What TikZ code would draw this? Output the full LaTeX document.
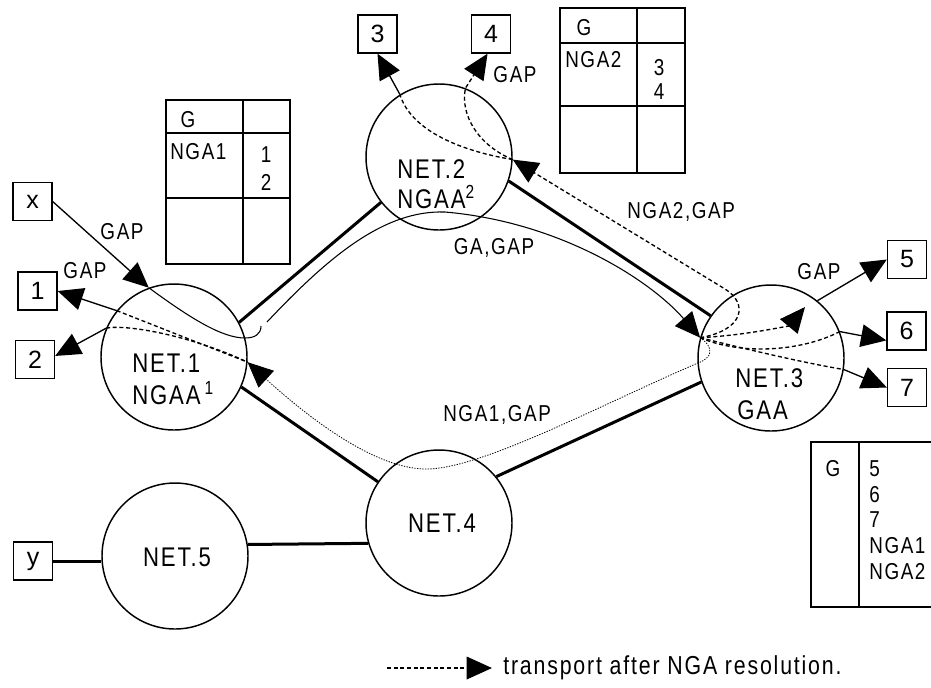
\documentclass[tikz,border=0pt]{standalone}
\usepackage{fontspec}
\setmainfont{Liberation Sans}
\newfontfamily\spfont{Liberation Sans}[FakeStretch=0.82,LetterSpace=7]
\usetikzlibrary{arrows.meta}
\begin{document}
\begin{tikzpicture}[x=0.75pt,y=-0.75pt,
  net/.style={circle, draw, line width=1.1pt, minimum size=109.5pt, inner sep=0pt},
  lbl/.style={inner sep=0pt, font=\spfont\fontsize{20.25}{22}\selectfont},
  small/.style={inner sep=0pt, font=\spfont\fontsize{17.25}{19}\selectfont},
  tbl/.style={inner sep=0pt, font=\spfont\fontsize{17.25}{19}\selectfont},
  leg/.style={inner sep=0pt, font=\spfont\fontsize{19.5}{21}\selectfont},
  bx/.style={draw, line width=1pt, minimum width=29.25pt, minimum height=28.5pt, inner sep=0pt, font=\fontsize{18.75}{20}\selectfont},
  link/.style={line width=2.25pt},
  tip/.style={-{Triangle[length=19pt,width=17pt]}},
  arr/.style={line width=1pt, tip},
  dsh/.style={line width=1pt, dash pattern=on 3pt off 2pt},
  dot/.style={line width=0.6pt, dash pattern=on 1pt off 1pt},
  thin/.style={line width=0.8pt}]
\useasboundingbox (0,0) rectangle (931,687);
\clip (0,0) rectangle (931,687);
\fill[white] (0,0) rectangle (931,687);

% networks
\node[net] (n1) at (174,357) {};
\node[net] (n2) at (439,157) {};
\node[net] (n3) at (771,358) {};
\node[net] (n4) at (439,523) {};
\node[net] (n5) at (175,556) {};

\node[lbl, anchor=west] (t1a) at (132,363) {NET.1};
\node[lbl, anchor=west] (t1b) at (132,393) {NGAA\hspace{3pt}\textsuperscript{1}};
\node[lbl, anchor=west] (t2a) at (397,169) {NET.2};
\node[lbl, anchor=west] (t2b) at (397,197) {NGAA\textsuperscript{2}};
\node[lbl, anchor=west] (t3a) at (735,378) {NET.3};
\node[lbl, anchor=west] (t3b) at (737,410) {GAA};
\node[lbl] (t4) at (442,523) {NET.4};
\node[lbl] (t5) at (177,557) {NET.5};

% boxes
\node[bx] (bxx) at (32.5,201.5) {x};
\node[bx] (b1) at (37.5,291) {1};
\node[bx] (b2) at (35,359.5) {2};
\node[bx] (b3) at (377.5,34) {3};
\node[bx] (b4) at (491,34) {4};
\node[bx] (b5) at (907,259.5) {5};
\node[bx] (b6) at (906.5,331) {6};
\node[bx] (b7) at (907,387.5) {7};
\node[bx] (by) at (33,561) {y};

% thick links
\draw[link] (n1.28) -- (n2.218);
\draw[link] (n1.336) -- (n4.146);
\draw[link] (n4.39) -- (n3.199);
\draw[link] (n2.341) -- (n3.145);
\draw[link] (n5.9) -- (n4.196);
\draw[link] (by.east) -- (by.east -| n5.west);

% GA,GAP path from x
\coordinate (h1) at (245,338);
\coordinate (h2) at (261,326);
\coordinate (r1) at (267,322);
\coordinate (m1) at (445,212);
\draw[arr] (bxx.east) -- (n1.110);
\draw[thin] (n1.110) .. controls (190,318) and (222,338) .. (h1) .. controls (255,338) and (261,334) .. (h2);
\draw[thin, tip] (r1) .. controls (330,255) and (385,210) .. (m1) .. controls (560,222) and (650,280) .. (n3.164);

% NET.1 exits
\draw[dsh] (n1.141) -- (n1.-4);
\draw[dsh] (n1.157) .. controls (125,324) and (190,335) .. (n1.-4);
\draw[arr] (n1.141) -- (b1.east);
\draw[arr] (n1.157) -- (b2.10);

% NGA2,GAP path
\coordinate (k1) at (725,289);
\draw[dsh, tip] (n3.164) .. controls (745,330) and (748,303) .. (k1) -- (n2.-2);
\draw[dsh] (n2.-2) .. controls (455,150) and (410,128) .. (n2.122);
\draw[arr] (n2.122) -- (b3.south);
\draw[dsh, tip] (n2.-2) .. controls (478,145) and (460,115) .. (n2.69) -- (b4.260);

% NET.3 exits
\coordinate (a5) at (805,307);
\draw[dsh, tip] (n3.164) .. controls (750,335) and (790,325) .. (a5);
\draw[arr] (n3.51) -- (b5.west);
\draw[dsh] (n3.164) .. controls (740,355) and (800,352) .. (n3.21);
\draw[arr] (n3.21) -- (b6.205);
\draw[dsh] (n3.164) .. controls (750,350) and (800,362) .. (n3.-9);
\draw[arr] (n3.-9) -- (b7.west);

% NGA1,GAP dotted path
\coordinate (d1) at (698,363);
\coordinate (d2) at (425,469);
\draw[dot, tip] (n3.164) .. controls (715,348) and (712,358) .. (d1) .. controls (600,405) and (480,470) .. (d2) .. controls (370,468) and (300,410) .. (n1.-4);

% labels
\node[small] (gap1) at (122,232) {GAP};
\node[small] (gap2) at (85,271) {GAP};
\node[small] (gap4) at (515,75) {GAP};
\node[small] (gap5) at (819,272) {GAP};
\node[small] (gagap) at (494,248) {GA,GAP};
\node[small, anchor=west] (nga2) at (627,212) {NGA2,GAP};
\node[small, anchor=west] (nga1) at (443,415) {NGA1,GAP};

% table 1
\draw[line width=1pt] (166,100) rectangle (290,264);
\draw[line width=2pt] (166,133) -- (290,133) (166,198) -- (290,198) (243,100) -- (243,264);
\node[tbl] (g1) at (188,120) {G};
\node[tbl, anchor=west] (g1n) at (170,152) {NGA1};
\node[tbl] (g11) at (266,155) {1};
\node[tbl] (g12) at (266,182) {2};

% table 2
\draw[line width=1pt] (560,8) rectangle (685,173);
\draw[line width=2pt] (560,43) -- (685,43) (560,106) -- (685,106) (637,8) -- (637,173);
\node[tbl] (g2) at (584,28) {G};
\node[tbl, anchor=west] (g2n) at (565,60) {NGA2};
\node[tbl] (g23) at (659,68) {3};
\node[tbl] (g24) at (659,92) {4};

% table 3
\draw[line width=1pt] (811,442) rectangle (945,607);
\draw[line width=1.5pt] (859,442) -- (859,607);
\node[tbl] (g3) at (833,469) {G};
\node[tbl, anchor=west] (g35) at (869,469) {5};
\node[tbl, anchor=west] (g36) at (869,494.5) {6};
\node[tbl, anchor=west] (g37) at (869,519.5) {7};
\node[tbl, anchor=west] (g3a) at (869,545.5) {NGA1};
\node[tbl, anchor=west] (g3b) at (869,572) {NGA2};

% legend
\coordinate (lg1) at (387,668);
\coordinate (lg2) at (492,668);
\draw[dsh, tip] (lg1) -- (lg2);
\node[leg, anchor=west] (lgt) at (503,668) {transport after NGA resolution.};
\end{tikzpicture}
\end{document}
